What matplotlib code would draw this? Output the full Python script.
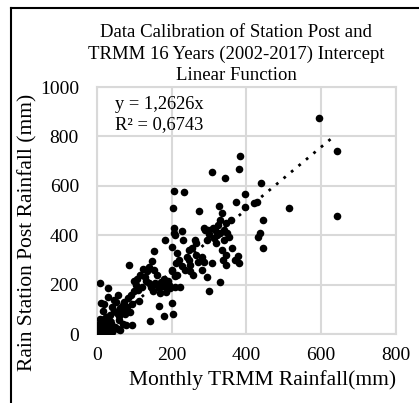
import matplotlib
matplotlib.use("Agg")
import matplotlib.pyplot as plt
from matplotlib.lines import Line2D

plt.rcParams['font.family'] = ['Liberation Serif', 'DejaVu Serif']

# monthly TRMM rainfall (mm) vs rain station post rainfall (mm)
trmm = [
    2, 5, 8, 3, 10, 12, 15, 18, 20, 6, 22, 25, 28, 30, 14, 9, 35, 38, 4, 0, 16, 24, 32, 11, 7, 19, 42, 27,
    40, 48, 55, 61, 70, 78, 94, 60,
    7, 29, 12, 45, 69, 78, 84, 53, 62, 36, 27, 20, 30, 40, 50, 55, 65, 72, 80, 88, 92, 100, 15, 25, 45, 58,
    75, 95, 110, 113, 86, 105, 120, 98,
    107, 128, 140, 123, 147, 153, 153, 156, 178, 169, 167, 201, 178, 204, 143, 115, 135, 145, 150, 160, 165,
    170, 175, 180, 185, 190, 195, 181, 160, 130, 138, 185, 210, 200,
    206, 234, 204, 207, 205, 227, 201, 230, 261, 285, 298, 274, 240, 227, 212, 201, 223, 194, 257, 281, 294,
    301, 210, 215, 220, 235, 245, 250, 255, 265, 270, 280, 290, 295, 265, 245, 250, 215, 208, 285,
    309, 342, 383, 380, 373, 395, 397, 326, 334, 330, 359, 312, 330, 339, 348, 334, 344, 346, 376, 381, 308,
    329, 320, 340, 310, 325, 345, 352, 318, 300, 360, 336, 370, 315,
    440, 428, 443, 435, 432, 445, 513, 595, 643, 641, 420,
]
station = [
    5, 2, 10, 20, 0, 15, 5, 25, 10, 35, 40, 18, 5, 30, 48, 60, 12, 45, 0, 8, 30, 0, 55, 25, 45, 62, 25, 38,
    10, 30, 20, 18, 40, 35, 38, 55,
    206, 186, 126, 139, 119, 99, 146, 85, 105, 78, 38, 120, 150, 110, 130, 160, 90, 130, 110, 90, 160, 175,
    95, 70, 95, 75, 80, 120, 179, 132, 281, 200, 190, 215,
    223, 231, 206, 263, 294, 260, 335, 206, 223, 166, 115, 126, 74, 80, 51, 240, 255, 190, 175, 200, 185,
    210, 195, 205, 190, 215, 185, 382, 240, 215, 270, 170, 190, 255,
    580, 574, 509, 430, 409, 418, 352, 382, 379, 428, 422, 497, 314, 274, 287, 260, 190, 200, 240, 312, 233,
    175, 400, 330, 300, 260, 300, 280, 350, 320, 290, 260, 420, 380, 370, 340, 255, 240, 235, 290,
    656, 630, 722, 668, 533, 514, 568, 517, 490, 463, 463, 389, 409, 422, 409, 339, 321, 278, 317, 287, 287,
    210, 400, 380, 430, 440, 450, 395, 370, 405, 350, 300, 300, 420,
    610, 534, 460, 409, 395, 350, 510, 876, 740, 476, 530,
]
slope = 1.2626
trend_x = [0, 630]
x_ticks = [0, 200, 400, 600, 800]
y_ticks = [0, 200, 400, 600, 800, 1000]

fig = plt.figure(figsize=(4.19, 4.03), dpi=100)
ax = fig.add_axes([0.2315, 0.171, 0.7135, 0.613])

ax.scatter(trmm, station, s=30, color='black', zorder=3, linewidths=0)
ax.plot(trend_x, [slope * v for v in trend_x], color='black', linestyle=(0, (1, 2.5)),
        linewidth=2, zorder=2)

ax.set_xlim(0, 800)
ax.set_ylim(0, 1000)
ax.set_xticks(x_ticks)
ax.set_yticks(y_ticks)
ax.grid(True, color='#d9d9d9', linewidth=1.5, zorder=0)
ax.set_axisbelow(True)
for s in ax.spines.values():
    s.set_color('#d9d9d9')
    s.set_linewidth(1.5)
ax.tick_params(length=0, labelsize=14, pad=9)
ax.tick_params(axis='y', pad=13)

ax.text(0.06, 0.93, "y = 1,2626x", transform=ax.transAxes, fontsize=13.3, va='center')
ax.text(0.06, 0.85, "R² = 0,6743", transform=ax.transAxes, fontsize=13.3, va='center')

fig.text(236 / 419, 1 - 54 / 403,
         "Data Calibration of Station Post and\nTRMM 16 Years (2002-2017) Intercept\nLinear Function",
         ha='center', va='center', fontsize=13.5, linespacing=1.3)
fig.text(263 / 419, 1 - 380 / 403, "Monthly TRMM Rainfall(mm)", ha='center', va='center', fontsize=15.5)
fig.text(28 / 419, 1 - 232 / 403, "Rain Station Post Rainfall (mm)", ha='center', va='center',
         fontsize=15.5, rotation=90)

# frame edges visible in the reference
fig.add_artist(Line2D([11 / 419, 11 / 419], [0, 1 - 8 / 403], color='black', linewidth=1.5))
fig.add_artist(Line2D([11 / 419, 1], [1 - 8 / 403, 1 - 8 / 403], color='black', linewidth=1.5))

fig.savefig("out.png", dpi=100)
